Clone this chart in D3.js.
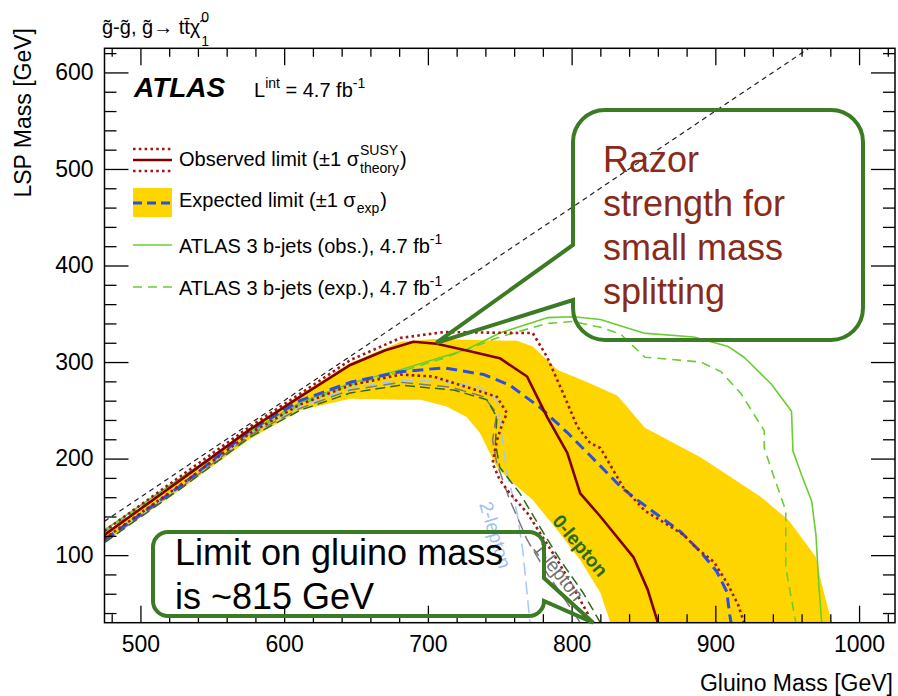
<!DOCTYPE html>
<html>
<head>
<meta charset="utf-8">
<script src="https://cdn.jsdelivr.net/npm/d3@7"></script>
<style>
  body { margin: 0; background: #fff; }
  svg text { font-family: "Liberation Sans", Arial, Helvetica, sans-serif; }
</style>
</head>
<body>
<svg id="chart" width="898" height="696"></svg>
<script>
// ---- axis setup (gluino mass vs LSP mass, GeV) ----
const xDomain = [475, 1025];
const yDomain = [30, 625];
const xMajor = [500, 600, 700, 800, 900, 1000];
const yMajor = [100, 200, 300, 400, 500, 600];
const xMinor = [480, 520, 540, 560, 580, 620, 640, 660, 680, 720, 740, 760, 780,
                820, 840, 860, 880, 920, 940, 960, 980, 1020];
const yMinor = [40, 60, 80, 120, 140, 160, 180, 220, 240, 260, 280, 320, 340, 360, 380,
                420, 440, 460, 480, 520, 540, 560, 580, 620];

// ---- exclusion contours, [m_gluino, m_LSP] ----
// kinematic boundary m_LSP = m_gluino - 2 m_top
const kinematicLimit = [[475, 135], [965, 625]];

const observed = [[475,121],[530,180],[576,230],[611,264],[646,297],[670,312],[690,321],[706,319],
  [727,312],[750,304],[769,285],[778,258],[783,243],[797,206],[806,164],[820,140],[843,98],
  [853,64],[860,30]];
const observedUp = [[475,125],[530,184],[576,233],[611,267],[646,302],[681,325],[711,331],
  [773,330],[783,305],[794,268],[804,233],[813,216],[820,211],[836,170],[851,146],[878,121],
  [887,107],[899,93],[909,69],[916,48],[920,30]];
const observedDown = [[475,117],[530,175],[576,226],[611,256],[646,276],[681,287],[704,285],
  [727,274],[748,264],[755,247],[752,237],[748,219],[745,195],[750,178],[757,164],[769,144],
  [778,123],[790,95],[801,67],[811,40],[813,30]];

const expected = [[475,116],[530,174],[576,229],[611,260],[646,279],[681,290],[711,294],[739,287],
  [757,276],[778,253],[797,227],[811,206],[834,171],[844,159],[876,124],[890,103],[901,83],
  [908,62],[910,38],[911,30]];
const expectedUp = [[475,122],[530,181],[576,232],[611,266],[646,299],[681,321],[704,324],
  [762,322],[773,316],[790,292],[811,279],[832,265],[851,232],[890,201],[932,160],[951,136],
  [970,98],[974,70],[981,30]];
const expectedDown = [[475,113],[530,170],[576,220],[611,250],[646,262],[681,261],[695,261],
  [713,254],[727,243],[736,227],[743,206],[748,191],[759,175],[773,157],[790,126],[806,95],
  [820,61],[827,30]];

const bjetsObs = [[475,126],[530,182],[576,228],[611,258],[646,278],[681,292],[727,313],[750,330],
  [783,346],[801,347],[820,344],[850,330],[885,326],[909,316],[920,305],[939,277],[953,249],
  [954,208],[960,183],[967,156],[970,121],[972,69],[974,30]];
const bjetsExp = [[475,124],[530,180],[576,226],[611,256],[646,276],[681,290],[711,304],[750,326],
  [783,340],[801,342],[820,336],[834,329],[851,305],[890,300],[904,290],[918,267],[934,229],
  [934,211],[941,180],[949,146],[949,87],[956,30]];

const zeroLepton = [[475,113],[530,171],[576,222],[611,250],[646,268],[681,276],[718,271],[741,261],
  [748,243],[747,216],[750,191],[764,164],[778,129],[792,95],[808,61],[820,30]];
const oneLepton = [[475,114],[530,172],[576,224],[611,252],[646,271],[681,279],[716,274],[739,264],
  [748,247],[745,219],[748,195],[757,157],[769,116],[783,81],[799,46],[806,30]];
const twoLepton = [[475,115],[530,173],[576,225],[611,254],[646,273],[681,281],[711,280],[736,274],
  [748,261],[750,240],[755,185],[762,144],[766,105],[769,61],[771,30]];

const channelLabels = [
  { text: "2-lepton", at: [747, 121], angle: 73, color: "#9dbff2", weight: "normal" },
  { text: "1-lepton", at: [791, 83],  angle: 52, color: "#707070", weight: "normal" },
  { text: "0-lepton", at: [806, 110], angle: 50, color: "#2e6a14", weight: "bold" }
];

// callout targets in data space
const razorTarget = [706, 320];
const limitTarget = [815, 30];

// ---- drawing ----
const svg = d3.select("#chart");
const plot = { left: 104.5, right: 895, top: 48.3, bottom: 622.7 };
const x = d3.scaleLinear().domain(xDomain).range([plot.left, plot.right]);
const y = d3.scaleLinear().domain(yDomain).range([plot.bottom, plot.top]);
const line = d3.line().x(d => x(d[0])).y(d => y(d[1]));

svg.append("defs").append("clipPath").attr("id", "plotClip")
  .append("rect").attr("x", plot.left).attr("y", plot.top)
  .attr("width", plot.right - plot.left).attr("height", plot.bottom - plot.top);

const g = svg.append("g").attr("clip-path", "url(#plotClip)");

// expected +-1 sigma band
g.append("path")
  .attr("d", line(expectedUp.concat(expectedDown.slice().reverse())) + "Z")
  .attr("fill", "#ffd500").attr("stroke", "none");

function curve(data, color, width, dash) {
  g.append("path").attr("d", line(data)).attr("fill", "none")
    .attr("stroke", color).attr("stroke-width", width)
    .attr("stroke-dasharray", dash || null)
    .attr("stroke-linejoin", "round");
}

curve(twoLepton, "#a6c6f5", 1.5, "13,6");
curve(oneLepton, "#7a7a7a", 1.5, "12,6");
curve(zeroLepton, "#2f6b1b", 1.5, "10,5");
curve(bjetsExp, "#6acd30", 1.6, "9,6");
curve(bjetsObs, "#6acd30", 1.6);
curve(expected, "#2a4fe6", 3, "11,6");
curve(observedUp, "#a01818", 2.6, "2.6,3.2");
curve(observedDown, "#a01818", 2.6, "2.6,3.2");
curve(observed, "#800000", 2.6);
curve(kinematicLimit, "#222", 1.2, "5,4");

channelLabels.forEach(l => {
  svg.append("text")
    .attr("transform", `translate(${x(l.at[0])},${y(l.at[1])}) rotate(${l.angle})`)
    .attr("text-anchor", "middle").attr("dy", "0.35em")
    .attr("font-size", 19).attr("font-weight", l.weight)
    .attr("fill", l.color).text(l.text);
});

// ---- axes and frame ----
function styleAxis(sel) {
  sel.select(".domain").remove();
  sel.selectAll("line").attr("stroke", "#000").attr("stroke-width", 1.3);
  sel.selectAll("text").attr("font-size", 23).attr("fill", "#000")
    .attr("font-family", "'Liberation Sans', Arial, sans-serif");
}
const fmt = d3.format("d");
svg.append("g").attr("transform", `translate(0,${plot.bottom})`)
  .call(d3.axisBottom(x).tickValues(xMajor).tickSizeInner(-17).tickSizeOuter(0).tickPadding(13).tickFormat(fmt))
  .call(styleAxis);
svg.append("g").attr("transform", `translate(0,${plot.bottom})`)
  .call(d3.axisBottom(x).tickValues(xMinor).tickSizeInner(-8.5).tickSizeOuter(0).tickFormat(""))
  .call(styleAxis);
svg.append("g").attr("transform", `translate(0,${plot.top})`)
  .call(d3.axisBottom(x).tickValues(xMajor).tickSizeInner(17).tickSizeOuter(0).tickFormat(""))
  .call(styleAxis);
svg.append("g").attr("transform", `translate(0,${plot.top})`)
  .call(d3.axisBottom(x).tickValues(xMinor).tickSizeInner(8.5).tickSizeOuter(0).tickFormat(""))
  .call(styleAxis);
svg.append("g").attr("transform", `translate(${plot.left},0)`)
  .call(d3.axisLeft(y).tickValues(yMajor).tickSizeInner(-24).tickSizeOuter(0).tickPadding(11).tickFormat(fmt))
  .call(styleAxis);
svg.append("g").attr("transform", `translate(${plot.left},0)`)
  .call(d3.axisLeft(y).tickValues(yMinor).tickSizeInner(-12).tickSizeOuter(0).tickFormat(""))
  .call(styleAxis);
svg.append("g").attr("transform", `translate(${plot.right},0)`)
  .call(d3.axisLeft(y).tickValues(yMajor).tickSizeInner(24).tickSizeOuter(0).tickFormat(""))
  .call(styleAxis);
svg.append("g").attr("transform", `translate(${plot.right},0)`)
  .call(d3.axisLeft(y).tickValues(yMinor).tickSizeInner(12).tickSizeOuter(0).tickFormat(""))
  .call(styleAxis);

svg.append("rect").attr("x", plot.left).attr("y", plot.top)
  .attr("width", plot.right - plot.left).attr("height", plot.bottom - plot.top)
  .attr("fill", "none").attr("stroke", "#000").attr("stroke-width", 1.5);

svg.append("text").attr("x", 893).attr("y", 691).attr("text-anchor", "end")
  .attr("font-size", 23).text("Gluino Mass [GeV]");
svg.append("text").attr("transform", "translate(31,28) rotate(-90)").attr("text-anchor", "end")
  .attr("font-size", 23).text("LSP Mass [GeV]");

// ---- process title ----
const title = svg.append("text").attr("x", 102).attr("y", 34).attr("font-size", 20)
  .text("g\u0303-g\u0303, g\u0303\u2192 tt\u0304\u03c7\u0303");
const tw = title.node().getComputedTextLength();
svg.append("text").attr("x", 102 + tw + 1).attr("y", 22).attr("font-size", 14).text("0");
svg.append("text").attr("x", 102 + tw + 1).attr("y", 46).attr("font-size", 14).text("1");

// ---- ATLAS label ----
svg.append("text").attr("x", 134).attr("y", 97).attr("font-size", 28)
  .attr("font-weight", "bold").attr("font-style", "italic").text("ATLAS");
const lumi = svg.append("text").attr("x", 254).attr("y", 97).attr("font-size", 20);
lumi.append("tspan").text("L");
lumi.append("tspan").attr("font-size", 14).attr("dy", -9).text("int");
lumi.append("tspan").attr("dy", 9).text(" = 4.7 fb");
lumi.append("tspan").attr("font-size", 14).attr("dy", -9).text("-1");

// ---- legend ----
const lx0 = 133, lx1 = 172, tx = 179;
const lg = svg.append("g");
function lgLine(yy, color, width, dash) {
  lg.append("line").attr("x1", lx0).attr("x2", lx1).attr("y1", yy).attr("y2", yy)
    .attr("stroke", color).attr("stroke-width", width).attr("stroke-dasharray", dash || null);
}
// observed
lgLine(149, "#a01818", 2.6, "2.6,3.2");
lgLine(171, "#a01818", 2.6, "2.6,3.2");
lgLine(160, "#800000", 2.6);
const t1 = lg.append("text").attr("x", tx).attr("y", 166).attr("font-size", 20)
  .text("Observed limit (\u00b11 \u03c3");
const w1 = t1.node().getComputedTextLength();
lg.append("text").attr("x", tx + w1 + 1).attr("y", 155).attr("font-size", 14).text("SUSY");
const sub1 = lg.append("text").attr("x", tx + w1 + 1).attr("y", 173).attr("font-size", 14).text("theory");
const sw1 = sub1.node().getComputedTextLength();
lg.append("text").attr("x", tx + w1 + 2 + sw1).attr("y", 166).attr("font-size", 20).text(")");
// expected
lg.append("rect").attr("x", lx0).attr("y", 188).attr("width", lx1 - lx0).attr("height", 29).attr("fill", "#ffd500");
lgLine(203, "#2a4fe6", 3, "9,5");
const t2 = lg.append("text").attr("x", tx).attr("y", 207).attr("font-size", 20)
  .text("Expected limit (\u00b11 \u03c3");
const w2 = t2.node().getComputedTextLength();
const sub2 = lg.append("text").attr("x", tx + w2 + 1).attr("y", 213).attr("font-size", 14).text("exp");
const sw2 = sub2.node().getComputedTextLength();
lg.append("text").attr("x", tx + w2 + 2 + sw2).attr("y", 207).attr("font-size", 20).text(")");
// 3 b-jets
lgLine(245, "#6acd30", 1.6);
lgLine(287, "#6acd30", 1.6, "9,6");
[["ATLAS 3 b-jets (obs.), 4.7 fb", 253], ["ATLAS 3 b-jets (exp.), 4.7 fb", 295]].forEach(([s, yy]) => {
  const t = lg.append("text").attr("x", tx).attr("y", yy).attr("font-size", 20);
  t.append("tspan").text(s);
  t.append("tspan").attr("font-size", 14).attr("dy", -9).text("-1");
});

// ---- callouts ----
const calloutColor = "#3b7b24";
function roundedCallout(box, r, side, base, tip) {
  const p = d3.path();
  const { x0, x1, y0, y1 } = box;
  p.moveTo(x0 + r, y0);
  p.lineTo(x1 - r, y0);
  p.arcTo(x1, y0, x1, y0 + r, r);
  if (side === "right") { p.lineTo(x1, base[0]); p.lineTo(tip[0], tip[1]); p.lineTo(x1, base[1]); }
  p.lineTo(x1, y1 - r);
  p.arcTo(x1, y1, x1 - r, y1, r);
  p.lineTo(x0 + r, y1);
  p.arcTo(x0, y1, x0, y1 - r, r);
  if (side === "left") { p.lineTo(x0, base[1]); p.lineTo(tip[0], tip[1]); p.lineTo(x0, base[0]); }
  p.lineTo(x0, y0 + r);
  p.arcTo(x0, y0, x0 + r, y0, r);
  p.closePath();
  svg.append("path").attr("d", p.toString()).attr("fill", "none")
    .attr("stroke", calloutColor).attr("stroke-width", 4).attr("stroke-linejoin", "miter");
}
roundedCallout({ x0: 573, x1: 863, y0: 110, y1: 340 }, 32, "left", [245, 300],
  [x(razorTarget[0]), y(razorTarget[1])]);
roundedCallout({ x0: 153, x1: 544, y0: 532, y1: 616 }, 15, "right", [578, 601],
  [x(limitTarget[0]), y(limitTarget[1])]);

const razorLines = ["Razor", "strength for", "small mass", "splitting"];
razorLines.forEach((s, i) => {
  svg.append("text").attr("x", 603).attr("y", 172 + i * 44).attr("font-size", 36)
    .attr("fill", "#8a2b17").text(s);
});
const limitLines = ["Limit on gluino mass", "is ~815 GeV"];
limitLines.forEach((s, i) => {
  svg.append("text").attr("x", 175).attr("y", 565 + i * 44).attr("font-size", 36)
    .attr("fill", "#000").text(s);
});
</script>
</body>
</html>
